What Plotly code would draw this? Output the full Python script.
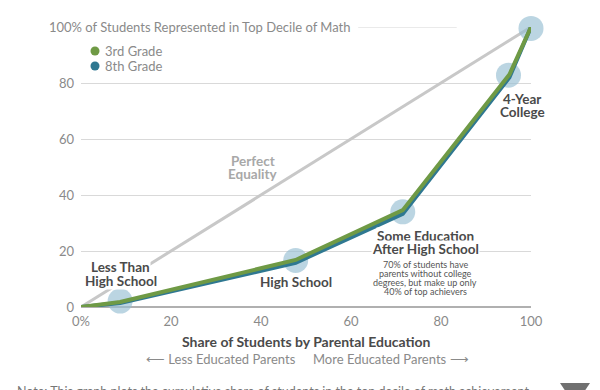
import plotly.graph_objects as go

# Data
share_x = [0, 8.7, 47.7, 71.5, 95.2, 100]
grade3 = [0, 1.8, 16.8, 34.6, 83.0, 100]
grade8 = [0, 1.4, 15.8, 33.3, 82.0, 100]
milestone_x = [8.7, 47.7, 71.5, 95, 100]
milestone_y = [2.1, 16.6, 34.0, 82.8, 99.5]
equality_x = [0, 100]
equality_y = [0, 100]
ytick_vals = [0, 20, 40, 60, 80]
xtick_vals = [0, 20, 40, 60, 80, 100]
xtick_text = ["0%", "20", "40", "60", "80", "100"]
series_names = ["3rd Grade", "8th Grade"]

GREEN = "#6f9a45"
BLUE = "#2f7891"
LABEL = "#4a4a4a"
TICK = "#8a8a8a"
FONT = "Lato"

fig = go.Figure()
fig.add_trace(go.Scatter(x=equality_x, y=equality_y, mode="lines",
                         line=dict(color="#c8c8c8", width=3), showlegend=False,
                         hoverinfo="skip", cliponaxis=False))
fig.add_trace(go.Scatter(x=milestone_x, y=milestone_y, mode="markers",
                         marker=dict(size=25, color="rgba(150,190,210,0.65)"),
                         showlegend=False, hoverinfo="skip", cliponaxis=False))
fig.add_trace(go.Scatter(x=share_x, y=grade8, mode="lines", name=series_names[1],
                         line=dict(color=BLUE, width=4), cliponaxis=False, showlegend=False))
fig.add_trace(go.Scatter(x=share_x, y=grade3, mode="lines", name=series_names[0],
                         line=dict(color=GREEN, width=4), cliponaxis=False, showlegend=False))

ann = []
def lab(x, y, lines, sp, color=LABEL, size=13.5, bold=True, bg=None):
    n = len(lines)
    for i, ln in enumerate(lines):
        t = f"<b>{ln}</b>" if bold else ln
        d = dict(x=x, y=y, text=t, showarrow=False, xref="x", yref="y",
                 xanchor="center", yanchor="middle",
                 yshift=(n - 1) / 2 * sp - i * sp,
                 font=dict(family=FONT, size=size, color=color))
        if bg:
            d["bgcolor"] = bg
            d["borderpad"] = 0
        ann.append(d)

lab(89.8, 101.1, ["Graduate", "School"], 14)
lab(98.0, 72.1, ["4-Year", "College"], 13)
lab(38.2, 50.0, ["Perfect", "Equality"], 13, color="#a8a8a8")
lab(8.8, 11.8, ["Less Than", "High School"], 14, bg="white")
lab(47.8, 8.9, ["High School"], 14)
lab(76.5, 23.0, ["Some Education", "After High School"], 13, bg="white")
lab(76.5, 10.5, ["70% of students have", "parents without college",
                 "degrees, but make up only", "40% of top achievers"], 9,
    color="#555555", size=9, bold=False)

ann.append(dict(x=60.3, y=100, xref="x", yref="y", showarrow=False, xanchor="right",
                yanchor="middle", text="100% of Students Represented in Top Decile of Math",
                font=dict(family=FONT, size=13, color=TICK)))

# legend (manual)
leg_y = [(307 - 51) / 280, (307 - 66) / 280]
leg_c = [GREEN, BLUE]
shapes = []
for nm, yy, cc in zip(series_names, leg_y, leg_c):
    ann.append(dict(x=(103 - 81) / 450, y=yy, xref="paper", yref="paper", showarrow=False,
                    xanchor="left", yanchor="middle", text=nm,
                    font=dict(family=FONT, size=13, color=TICK)))
    shapes.append(dict(type="circle", xref="paper", yref="paper",
                       xsizemode="pixel", ysizemode="pixel",
                       xanchor=(95 - 81) / 450, yanchor=yy,
                       x0=-4.5, x1=4.5, y0=-4.5, y1=4.5,
                       fillcolor=cc, line=dict(width=0)))

ann.append(dict(x=0.5, y=(307 - 341) / 280, xref="paper", yref="paper", showarrow=False,
                xanchor="center", yanchor="middle",
                text="<b>Share of Students by Parental Education</b>",
                font=dict(family=FONT, size=14, color=LABEL)))
ann.append(dict(x=(144 - 81) / 450, y=(307 - 359) / 280, xref="paper", yref="paper",
                showarrow=False, xanchor="left", yanchor="middle",
                text="⟵ Less Educated Parents", font=dict(family=FONT, size=13, color=TICK)))
ann.append(dict(x=(471 - 81) / 450, y=(307 - 359) / 280, xref="paper", yref="paper",
                showarrow=False, xanchor="right", yanchor="middle",
                text="More Educated Parents ⟶", font=dict(family=FONT, size=13, color=TICK)))
ann.append(dict(x=(15 - 81) / 450, y=(307 - 382) / 280, xref="paper", yref="paper",
                showarrow=False, xanchor="left", yanchor="top",
                text="Note: This graph plots the cumulative share of students in the top decile of math achievement",
                font=dict(family=FONT, size=12.5, color="#777777")))

shapes += [dict(type="line", xref="x", yref="y", x0=61.6, x1=83.5, y0=100, y1=100,
                line=dict(color="#d6d6d6", width=1), layer="below"),
           dict(type="path", xref="paper", yref="paper",
                path=f"M {(560-81)/450},{(307-383)/280} L {(590-81)/450},{(307-383)/280} "
                     f"L {(584-81)/450},{(307-392)/280} L {(566-81)/450},{(307-392)/280} Z",
                fillcolor="#707070", line=dict(width=0))]

fig.update_layout(
    width=600, height=390,
    margin=dict(l=73, r=77, t=19, b=91, autoexpand=False),
    paper_bgcolor="white", plot_bgcolor="white",
    font=dict(family=FONT, color=TICK),
    annotations=ann, shapes=shapes, showlegend=False,
    xaxis=dict(range=[0, 100], tickvals=xtick_vals, ticktext=xtick_text,
               showgrid=False, zeroline=False, showline=False,
               tickfont=dict(family=FONT, size=13, color=TICK), ticks="", ticklabelstandoff=5),
    yaxis=dict(range=[0, 100], tickvals=ytick_vals, showgrid=True, gridcolor="#d9d9d9",
               gridwidth=1, zeroline=True, zerolinecolor="#b0b0b0", zerolinewidth=1.5,
               tickfont=dict(family=FONT, size=13, color=TICK), ticks="", ticklabelstandoff=6),
)
fig.write_html("out.html")
